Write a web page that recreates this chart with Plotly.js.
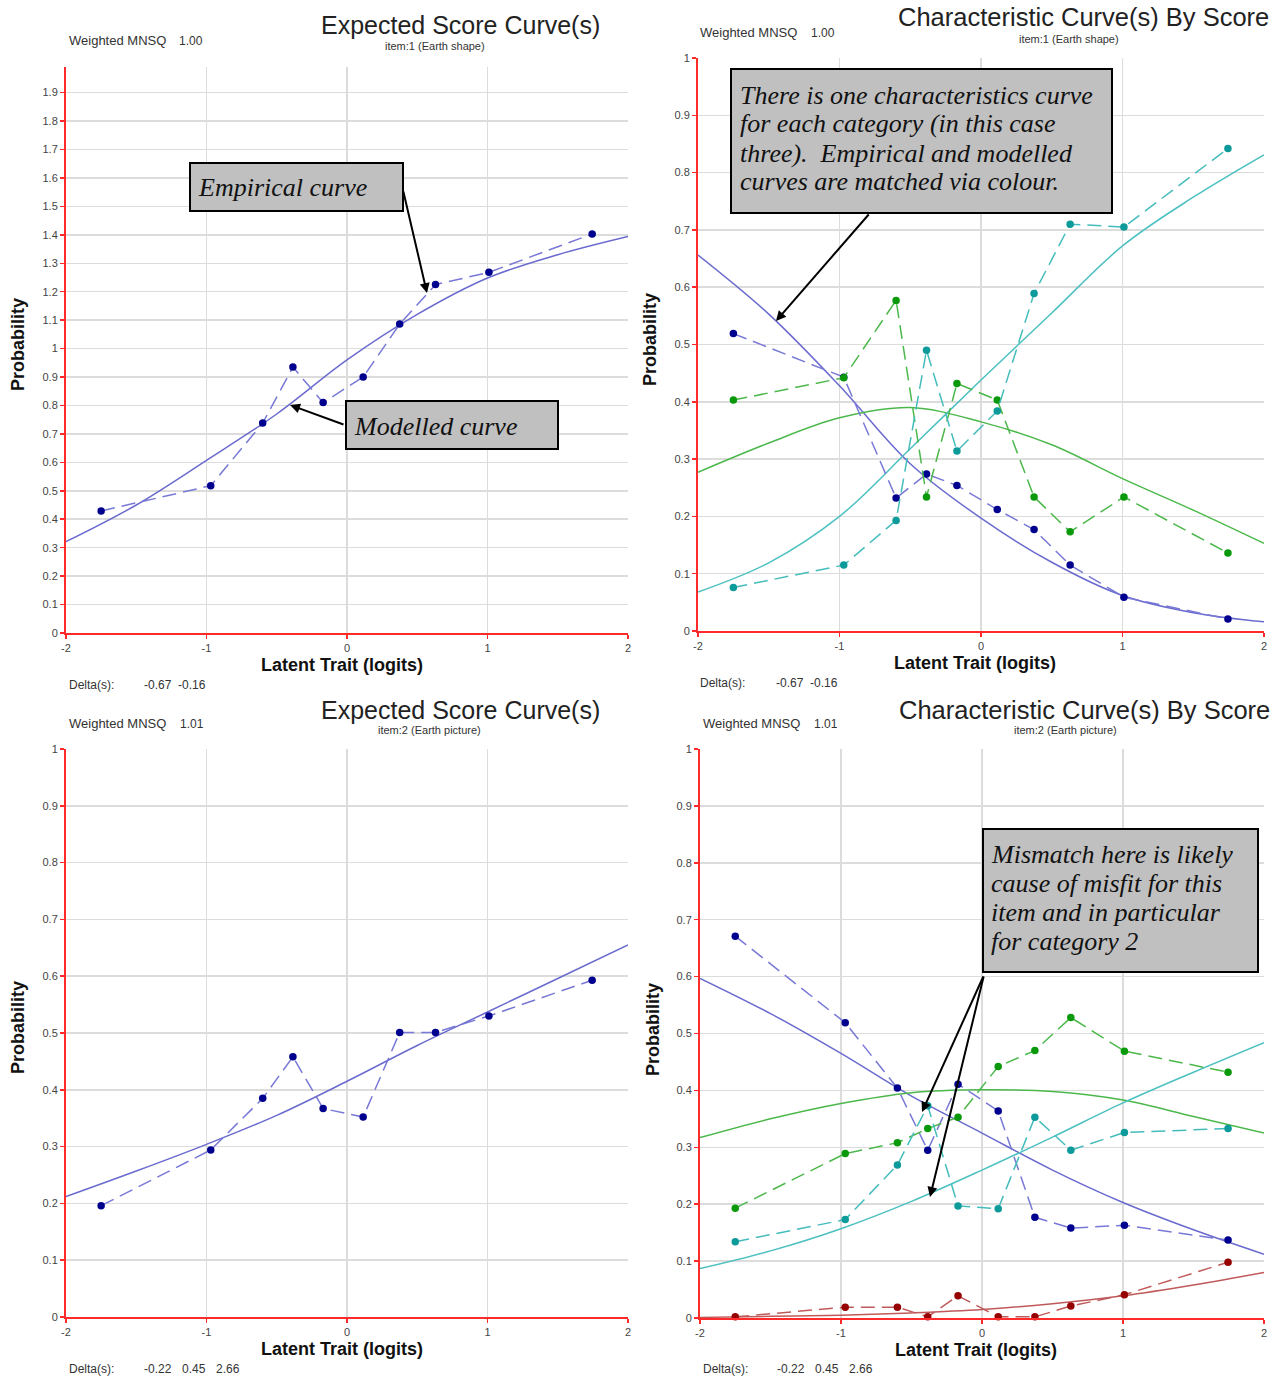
<!DOCTYPE html>
<html>
<head>
<meta charset="utf-8">
<script src="https://cdn.plot.ly/plotly-3.0.1.min.js"></script>
<style>html,body{margin:0;padding:0;background:#fff;}#chart{width:1285px;height:1378px;}</style>
</head>
<body>
<div id="chart"></div>
<script>
// ---------------- DATA ----------------
// theta (logit) positions of the empirical score groups
const groupTheta = [-1.75, -0.97, -0.60, -0.385, -0.17, 0.115, 0.375, 0.63, 1.01, 1.745];
// theta grid at which modelled curves were read
const modelTheta = [-2, -1.5, -1, -0.5, 0, 0.5, 1, 1.5, 2];

// Item 1 (Earth shape) - expected score
const item1ExpModel = [0.321, 0.45, 0.607, 0.77, 0.96, 1.12, 1.248, 1.33, 1.394];
const item1ExpEmp   = [0.429, 0.518, 0.738, 0.935, 0.810, 0.900, 1.086, 1.225, 1.268, 1.403];
// Item 1 - category characteristic curves
const item1Cat0Model = [0.656, 0.553, 0.428, 0.292, 0.197, 0.12, 0.062, 0.032, 0.016];
const item1Cat1Model = [0.277, 0.328, 0.372, 0.39, 0.365, 0.325, 0.266, 0.211, 0.153];
const item1Cat2Model = [0.068, 0.119, 0.2, 0.318, 0.438, 0.555, 0.672, 0.757, 0.831];
const item1Cat0Emp = [0.519, 0.443, 0.232, 0.274, 0.254, 0.212, 0.177, 0.115, 0.059, 0.021];
const item1Cat1Emp = [0.403, 0.442, 0.577, 0.234, 0.432, 0.403, 0.234, 0.173, 0.234, 0.136];
const item1Cat2Emp = [0.076, 0.115, 0.193, 0.490, 0.314, 0.384, 0.589, 0.710, 0.705, 0.842];

// Item 2 (Earth picture) - expected score
const item2ExpModel = [0.212, 0.257, 0.304, 0.355, 0.415, 0.478, 0.537, 0.596, 0.655];
const item2ExpEmp   = [0.196, 0.294, 0.385, 0.458, 0.367, 0.352, 0.501, 0.501, 0.530, 0.593];
// Item 2 - category characteristic curves
const item2Cat0Model = [0.597, 0.535, 0.465, 0.39, 0.325, 0.26, 0.203, 0.155, 0.112];
const item2Cat1Model = [0.317, 0.35, 0.377, 0.396, 0.401, 0.398, 0.383, 0.354, 0.325];
const item2Cat2Model = [0.087, 0.118, 0.157, 0.205, 0.26, 0.318, 0.378, 0.432, 0.484];
const item2Cat3Model = [0.001, 0.003, 0.005, 0.009, 0.015, 0.025, 0.039, 0.058, 0.080];
const item2Cat0Emp = [0.671, 0.519, 0.404, 0.295, 0.411, 0.364, 0.177, 0.158, 0.163, 0.137];
const item2Cat1Emp = [0.193, 0.289, 0.308, 0.333, 0.353, 0.442, 0.470, 0.528, 0.469, 0.432];
const item2Cat2Emp = [0.134, 0.173, 0.269, 0.373, 0.197, 0.192, 0.353, 0.295, 0.326, 0.333];
const item2Cat3Emp = [0.002, 0.019, 0.019, 0.002, 0.039, 0.002, 0.002, 0.021, 0.041, 0.098];

// Tick labels
const xTickVals = [-2, -1, 0, 1, 2];
const xTickText = ['-2', '-1', '0', '1', '2'];
const yTickValsES = [0,0.1,0.2,0.3,0.4,0.5,0.6,0.7,0.8,0.9,1,1.1,1.2,1.3,1.4,1.5,1.6,1.7,1.8,1.9];
const yTickTextES = ['0','0.1','0.2','0.3','0.4','0.5','0.6','0.7','0.8','0.9','1','1.1','1.2','1.3','1.4','1.5','1.6','1.7','1.8','1.9'];
const yTickValsP = [0,0.1,0.2,0.3,0.4,0.5,0.6,0.7,0.8,0.9,1];
const yTickTextP = ['0','0.1','0.2','0.3','0.4','0.5','0.6','0.7','0.8','0.9','1'];

// Texts
const item1Label = 'item:1 (Earth shape)';
const item2Label = 'item:2 (Earth picture)';
const item1MNSQ = '1.00';
const item2MNSQ = '1.01';
const item1Deltas = ['-0.67', '-0.16'];
const item2Deltas = ['-0.22', '0.45', '2.66'];

// ---------------- STYLE ----------------
const W = 1285, H = 1378;
const X = px => px / W;
const Y = py => 1 - py / H;
const SANS = 'Liberation Sans, Arial, sans-serif';
const SERIF = 'Liberation Serif, Times New Roman, serif';

const COL = {
  blue:  {model:'#6a6acf', emp:'#7878d6', mark:'#00008f'},
  green: {model:'#4cb84c', emp:'#4cb84c', mark:'#0a990a'},
  cyan:  {model:'#4cc0c0', emp:'#45bcbc', mark:'#0c9a9a'},
  red:   {model:'#c05a5a', emp:'#c05a5a', mark:'#960000'}
};

function modelTrace(y, c, xa, ya) {
  return {x: modelTheta, y: y, xaxis: xa, yaxis: ya, mode: 'lines', type: 'scatter',
          line: {color: c.model, width: 1.5, shape: 'spline', smoothing: 1}, hoverinfo: 'skip', showlegend: false};
}
function empTrace(y, c, xa, ya) {
  return {x: groupTheta, y: y, xaxis: xa, yaxis: ya, mode: 'lines+markers', type: 'scatter', cliponaxis: false,
          line: {color: c.emp, width: 1.5, dash: '14px,7px'},
          marker: {color: c.mark, size: 7.5}, hoverinfo: 'skip', showlegend: false};
}

const traces = [
  modelTrace(item1ExpModel, COL.blue, 'x', 'y'),
  empTrace(item1ExpEmp, COL.blue, 'x', 'y'),

  modelTrace(item1Cat0Model, COL.blue, 'x2', 'y2'),
  modelTrace(item1Cat1Model, COL.green, 'x2', 'y2'),
  modelTrace(item1Cat2Model, COL.cyan, 'x2', 'y2'),
  empTrace(item1Cat0Emp, COL.blue, 'x2', 'y2'),
  empTrace(item1Cat1Emp, COL.green, 'x2', 'y2'),
  empTrace(item1Cat2Emp, COL.cyan, 'x2', 'y2'),

  modelTrace(item2ExpModel, COL.blue, 'x3', 'y3'),
  empTrace(item2ExpEmp, COL.blue, 'x3', 'y3'),

  modelTrace(item2Cat0Model, COL.blue, 'x4', 'y4'),
  modelTrace(item2Cat1Model, COL.green, 'x4', 'y4'),
  modelTrace(item2Cat2Model, COL.cyan, 'x4', 'y4'),
  modelTrace(item2Cat3Model, COL.red, 'x4', 'y4'),
  empTrace(item2Cat0Emp, COL.blue, 'x4', 'y4'),
  empTrace(item2Cat1Emp, COL.green, 'x4', 'y4'),
  empTrace(item2Cat2Emp, COL.cyan, 'x4', 'y4'),
  empTrace(item2Cat3Emp, COL.red, 'x4', 'y4')
];

function axis(domain, anchor, range, tv, tt) {
  return {domain: domain, anchor: anchor, range: range, tickmode: 'array', tickvals: tv, ticktext: tt,
          showgrid: true, gridcolor: '#dcdcdc', gridwidth: 1.5, zeroline: false,
          showline: true, linecolor: '#ff2a2a', linewidth: 2,
          ticks: 'outside', ticklen: 4, tickwidth: 1.5, tickcolor: '#ff2a2a',
          tickfont: {family: SANS, size: 11, color: '#444'}, fixedrange: true};
}

const layout = {
  width: W, height: H, margin: {l: 0, r: 0, t: 0, b: 0},
  paper_bgcolor: '#fff', plot_bgcolor: '#fff', showlegend: false,
  xaxis:  axis([X(66), X(628)], 'y', [-2, 2], xTickVals, xTickText),
  yaxis:  axis([Y(633), Y(67)], 'x', [0, 1.99], yTickValsES, yTickTextES),
  xaxis2: axis([X(698), X(1264)], 'y2', [-2, 2], xTickVals, xTickText),
  yaxis2: axis([Y(631), Y(58)], 'x2', [0, 1], yTickValsP, yTickTextP),
  xaxis3: axis([X(66), X(628)], 'y3', [-2, 2], xTickVals, xTickText),
  yaxis3: axis([Y(1317), Y(749)], 'x3', [0, 1], yTickValsP, yTickTextP),
  xaxis4: axis([X(700), X(1264)], 'y4', [-2, 2], xTickVals, xTickText),
  yaxis4: axis([Y(1318), Y(749)], 'x4', [0, 1], yTickValsP, yTickTextP),
  shapes: [],
  annotations: []
};

const A = layout.annotations;
function txt(text, px, py, opts) {
  A.push(Object.assign({xref: 'paper', yref: 'paper', x: X(px), y: Y(py), text: text, showarrow: false,
    xanchor: 'center', yanchor: 'middle', font: {family: SANS, size: 11, color: '#333'}}, opts || {}));
}
function panelText(o) {
  txt(o.title, o.titleX, o.titleY, {font: {family: SANS, size: o.titleSize, color: '#222'}});
  txt(o.item, o.itemX, o.itemY, {font: {family: SANS, size: 11, color: '#333'}});
  txt('Weighted MNSQ', o.wmX, o.wmY, {xanchor: 'left', font: {family: SANS, size: 13, color: '#333'}});
  txt(o.mnsq, o.mnsqX, o.wmY, {xanchor: 'left', font: {family: SANS, size: 12, color: '#333'}});
  txt('<b>Latent Trait (logits)</b>', o.xtX, o.xtY, {font: {family: SANS, size: 18, color: '#111'}});
  txt('<b>Probability</b>', o.ptX, o.ptY, {textangle: -90, font: {family: SANS, size: 18, color: '#111'}});
  txt('Delta(s):', o.wmX, o.dY, {xanchor: 'left', font: {family: SANS, size: 12, color: '#333'}});
  o.deltas.forEach((d, i) => txt(d, o.dX + 34 * i, o.dY, {xanchor: 'right', font: {family: SANS, size: 12, color: '#333'}}));
}
panelText({title: 'Expected Score Curve(s)', titleSize: 25, titleX: 460, titleY: 25, item: item1Label, itemX: 435, itemY: 46,
  wmX: 67, wmY: 41, mnsq: item1MNSQ, mnsqX: 177, xtX: 342, xtY: 665, ptX: 18, ptY: 345, dY: 685, dX: 174, deltas: item1Deltas});
panelText({title: 'Characteristic Curve(s) By Score', titleSize: 25.5, titleX: 1083, titleY: 17, item: item1Label, itemX: 1069, itemY: 39,
  wmX: 698, wmY: 33, mnsq: item1MNSQ, mnsqX: 809, xtX: 975, xtY: 663, ptX: 650, ptY: 340, dY: 683, dX: 806, deltas: item1Deltas});
panelText({title: 'Expected Score Curve(s)', titleSize: 25, titleX: 460, titleY: 710, item: item2Label, itemX: 430, itemY: 730,
  wmX: 67, wmY: 724, mnsq: item2MNSQ, mnsqX: 178, xtX: 342, xtY: 1349, ptX: 18, ptY: 1028, dY: 1369, dX: 174, deltas: item2Deltas});
panelText({title: 'Characteristic Curve(s) By Score', titleSize: 25.5, titleX: 1084, titleY: 710, item: item2Label, itemX: 1065, itemY: 730,
  wmX: 701, wmY: 724, mnsq: item2MNSQ, mnsqX: 812, xtX: 976, xtY: 1350, ptX: 653, ptY: 1030, dY: 1369, dX: 807, deltas: item2Deltas});

// Callout boxes
function box(x0, y0, x1, y1, lines, tx, ty0, dy) {
  layout.shapes.push({type: 'rect', xref: 'paper', yref: 'paper', x0: X(x0), x1: X(x1), y0: Y(y1), y1: Y(y0),
    fillcolor: '#c0c0c0', line: {color: '#000', width: 2}, layer: 'above'});
  lines.forEach((l, i) => txt('<i>' + l + '</i>', tx, ty0 + dy * i,
    {xanchor: 'left', font: {family: SERIF, size: 26, color: '#111'}}));
}
function arrow(tailX, tailY, tipX, tipY) {
  A.push({xref: 'paper', yref: 'paper', x: X(tipX), y: Y(tipY), ax: tailX - tipX, ay: tailY - tipY,
    text: '', showarrow: true, arrowhead: 2, arrowsize: 1, arrowwidth: 2, arrowcolor: '#000', standoff: 0});
}
box(190, 163, 403, 211, ['Empirical curve'], 196, 188, 29);
box(346, 401, 558, 449, ['Modelled curve'], 352, 426, 29);
box(731, 69, 1112, 213, ['There is one characteristics curve', 'for each category (in this case',
  'three).  Empirical and modelled', 'curves are matched via colour.'], 738, 95, 29);
box(983, 829, 1258, 972, ['Mismatch here is likely', 'cause of misfit for this',
  'item and in particular', 'for category 2'], 989, 854, 29.3);
arrow(403, 190, 427, 293);
arrow(345, 425, 290, 405);
arrow(870, 213, 776, 321);
arrow(984, 975, 922, 1112);
arrow(984, 975, 930, 1197);

Plotly.newPlot('chart', traces, layout, {staticPlot: true, displayModeBar: false});
</script>
</body>
</html>
